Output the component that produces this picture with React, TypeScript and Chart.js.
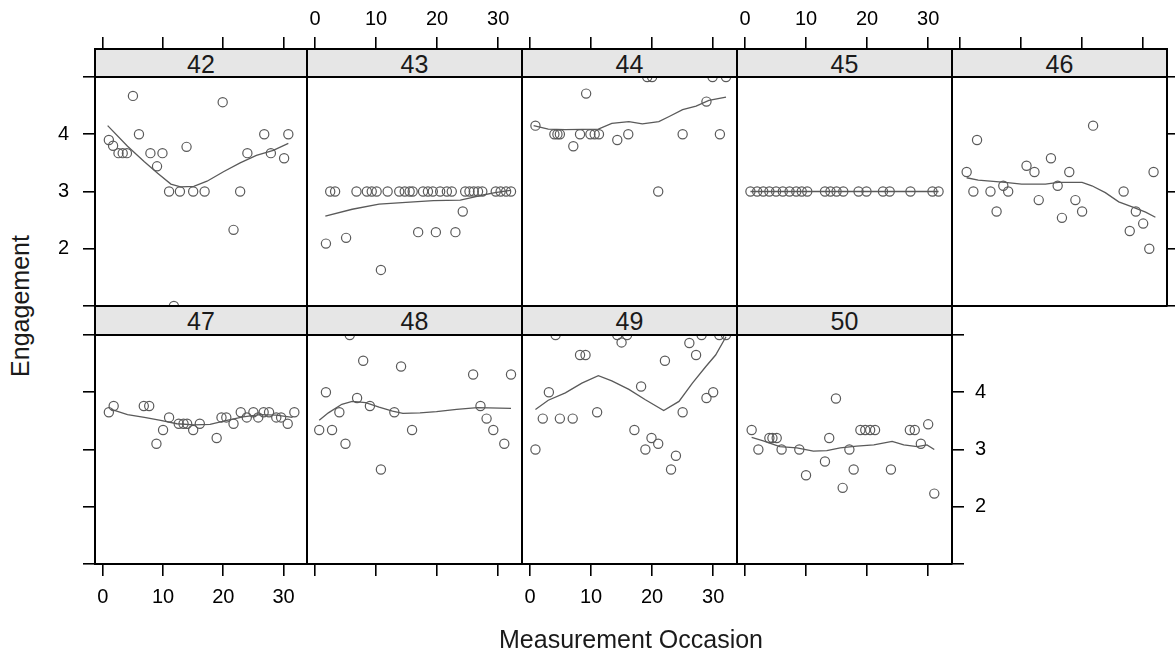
import { useEffect, useRef } from 'react';
import { Chart, registerables } from 'chart.js';

Chart.register(...registerables);

// ---------------- data ----------------
const panelIds = ['42', '43', '44', '45', '46', '47', '48', '49', '50'];
const panelRows = [0, 0, 0, 0, 0, 1, 1, 1, 1];
const panelCols = [0, 1, 2, 3, 4, 0, 1, 2, 3];

const xTickValues = [0, 10, 20, 30];
const xTickLabels = ['0', '10', '20', '30'];
const yTickValues = [1, 2, 3, 4, 5];
const yTickLabels = ['', '2', '3', '4', ''];

const occ42 = [1.0, 1.7, 2.6, 3.3, 4.0, 5.0, 6.0, 7.9, 9.0, 9.9, 11.0, 11.8, 12.8, 13.9, 15.0, 16.9, 19.9, 21.7, 22.8, 24.0, 26.8, 27.9, 30.1, 30.8];
const eng42 = [3.9, 3.8, 3.67, 3.67, 3.67, 4.67, 4.0, 3.67, 3.44, 3.67, 3.0, 1.0, 3.0, 3.78, 3.0, 3.0, 4.56, 2.33, 3.0, 3.67, 4.0, 3.67, 3.58, 4.0];
const fitX42 = [0.8, 4.1, 6.9, 9.1, 11.3, 12.9, 15.1, 17.3, 20.1, 22.8, 25.5, 28.3, 30.8];
const fitY42 = [4.15, 3.79, 3.52, 3.32, 3.13, 3.08, 3.09, 3.18, 3.35, 3.5, 3.63, 3.72, 3.84];

const occ43 = [1.8, 2.5, 3.3, 5.1, 6.8, 8.5, 9.3, 10.1, 10.8, 11.9, 13.8, 14.7, 15.5, 16.0, 16.9, 17.7, 18.5, 19.3, 19.8, 20.5, 21.6, 22.4, 23.0, 24.2, 24.6, 25.3, 26.0, 26.7, 27.4, 29.6, 30.4, 31.3, 32.1];
const eng43 = [2.09, 3, 3, 2.19, 3, 3, 3, 3, 1.63, 3, 3, 3, 3, 3, 2.29, 3, 3, 3, 2.29, 3, 3, 3, 2.29, 2.65, 3, 3, 3, 3, 3, 3, 3, 3, 3];
const fitX43 = [1.7, 6.1, 10.5, 14.9, 19.4, 23.8, 26.0, 27.1, 29.5, 32.0];
const fitY43 = [2.57, 2.69, 2.78, 2.81, 2.84, 2.85, 2.9, 2.93, 2.98, 3.02];

const occ44 = [0.9, 4.0, 4.5, 4.9, 7.1, 8.2, 9.2, 9.9, 10.6, 11.3, 14.3, 16.1, 19.2, 20.0, 21.0, 25.0, 28.9, 29.9, 31.1, 32.1];
const eng44 = [4.15, 4, 4, 4, 3.79, 4, 4.71, 4, 4, 4, 3.9, 4, 5, 5, 3, 4, 4.57, 5, 4, 5];
const fitX44 = [0.6, 3.0, 5.8, 11.2, 13.4, 16.2, 18.4, 21.1, 22.8, 25.0, 27.2, 29.3, 32.1];
const fitY44 = [4.15, 4.09, 4.08, 4.09, 4.19, 4.22, 4.18, 4.22, 4.31, 4.43, 4.49, 4.59, 4.65];

const occ45 = [0.9, 2.0, 3.0, 4.0, 5.1, 6.2, 7.3, 8.4, 9.3, 10.2, 13.1, 14.0, 15.0, 16.1, 18.6, 19.9, 22.6, 23.7, 27.1, 30.7, 31.7];
const eng45 = [3, 3, 3, 3, 3, 3, 3, 3, 3, 3, 3, 3, 3, 3, 3, 3, 3, 3, 3, 3, 3];
const fitX45 = [0.9, 31.7];
const fitY45 = [3, 3];

const occ46 = [1.1, 2.2, 2.8, 5.0, 6.0, 7.1, 7.9, 10.9, 12.2, 12.9, 14.9, 16.0, 16.7, 17.9, 18.9, 20.0, 21.8, 26.8, 27.8, 28.8, 30.0, 31.0, 31.7];
const eng46 = [3.34, 3.0, 3.9, 3.0, 2.65, 3.1, 3.0, 3.45, 3.34, 2.85, 3.58, 3.1, 2.54, 3.34, 2.85, 2.65, 4.15, 3.0, 2.31, 2.65, 2.44, 2.0, 3.34];
const fitX46 = [1.1, 3.0, 7.4, 10.1, 14.0, 16.1, 20.0, 21.6, 23.8, 26.0, 28.2, 30.4, 32.0];
const fitY46 = [3.24, 3.2, 3.16, 3.13, 3.13, 3.16, 3.16, 3.1, 2.98, 2.82, 2.73, 2.64, 2.55];

const occ47 = [1.0, 1.8, 6.8, 7.7, 8.9, 10.0, 11.0, 12.6, 13.4, 14.0, 15.0, 16.1, 18.9, 19.7, 20.5, 21.7, 22.9, 23.9, 25.0, 25.8, 26.7, 27.6, 28.8, 29.6, 30.7, 31.8];
const eng47 = [3.65, 3.76, 3.76, 3.76, 3.1, 3.34, 3.56, 3.45, 3.45, 3.45, 3.34, 3.45, 3.2, 3.56, 3.56, 3.45, 3.65, 3.56, 3.65, 3.56, 3.65, 3.65, 3.56, 3.56, 3.45, 3.65];
const fitX47 = [1.4, 4.1, 6.9, 9.6, 12.3, 15.1, 17.8, 20.6, 23.3, 26.1, 28.8, 31.5];
const fitY47 = [3.7, 3.61, 3.56, 3.51, 3.45, 3.43, 3.44, 3.51, 3.57, 3.61, 3.6, 3.56];

const occ48 = [0.7, 1.8, 2.8, 4.0, 5.0, 5.7, 6.9, 7.9, 9.0, 10.8, 13.0, 14.1, 15.9, 25.9, 27.1, 28.1, 29.2, 31.0, 32.1];
const eng48 = [3.34, 4.0, 3.34, 3.65, 3.1, 5.0, 3.9, 4.55, 3.76, 2.65, 3.65, 4.45, 3.34, 4.31, 3.76, 3.54, 3.34, 3.1, 4.31];
const fitX48 = [0.7, 2.2, 4.4, 6.1, 8.3, 10.5, 12.7, 14.4, 17.2, 19.9, 23.2, 26.6, 32.1];
const fitY48 = [3.51, 3.64, 3.79, 3.84, 3.82, 3.74, 3.67, 3.63, 3.64, 3.66, 3.7, 3.73, 3.72];

const occ49 = [0.9, 2.1, 3.1, 4.2, 4.9, 7.0, 8.2, 9.1, 11.0, 14.3, 15.0, 15.9, 17.1, 18.2, 18.9, 19.9, 21.0, 22.1, 23.1, 23.9, 25.0, 26.1, 27.2, 28.1, 28.9, 30.0, 31.0, 32.1];
const eng49 = [3.0, 3.54, 4.0, 5.0, 3.54, 3.54, 4.65, 4.65, 3.65, 5.0, 4.87, 5.0, 3.34, 4.1, 3.0, 3.2, 3.1, 4.55, 2.65, 2.89, 3.65, 4.86, 4.65, 5.0, 3.9, 4.0, 5.0, 5.0];
const fitX49 = [0.9, 3.0, 5.8, 8.5, 11.2, 13.4, 16.2, 18.9, 21.9, 24.4, 26.6, 28.8, 30.4, 32.1];
const fitY49 = [3.7, 3.86, 3.99, 4.16, 4.29, 4.2, 4.05, 3.87, 3.68, 3.84, 4.16, 4.45, 4.65, 4.97];

const occ50 = [1.1, 2.2, 4.0, 4.5, 5.2, 6.0, 8.9, 10.0, 13.1, 13.8, 14.9, 16.0, 17.1, 17.8, 18.9, 19.7, 20.5, 21.3, 23.9, 27.0, 27.8, 28.8, 30.0, 31.0];
const eng50 = [3.34, 3.0, 3.2, 3.2, 3.2, 3.0, 3.0, 2.55, 2.79, 3.2, 3.89, 2.33, 3.0, 2.65, 3.34, 3.34, 3.34, 3.34, 2.65, 3.34, 3.34, 3.1, 3.44, 2.23];
const fitX50 = [1.1, 3.0, 5.7, 8.5, 11.2, 13.4, 15.6, 18.3, 21.1, 24.1, 26.0, 28.2, 29.8, 31.0];
const fitY50 = [3.21, 3.15, 3.05, 3.03, 2.97, 2.98, 3.03, 3.06, 3.08, 3.14, 3.08, 3.05, 3.08, 3.0];

const panelOcc = [occ42, occ43, occ44, occ45, occ46, occ47, occ48, occ49, occ50];
const panelEng = [eng42, eng43, eng44, eng45, eng46, eng47, eng48, eng49, eng50];
const panelFitX = [fitX42, fitX43, fitX44, fitX45, fitX46, fitX47, fitX48, fitX49, fitX50];
const panelFitY = [fitY42, fitY43, fitY44, fitY45, fitY46, fitY47, fitY48, fitY49, fitY50];

// ---------------- layout / style ----------------
const FONT = "'Liberation Sans', Arial, Helvetica, sans-serif";
const X_MIN = -1.3;
const X_MAX = 33.9;
const Y_MIN = 1;
const Y_MAX = 5;
const colLefts = [95, 307, 522, 737, 952, 1167];
const rowStripTop = [49, 306];
const rowPlotTop = [77, 335];
const rowPlotBottom = [306, 564];
const M = 60;
const TICK_LEN = 12;
const PT_COLOR = '#5a5a5a';

function makeScale(
  axis: 'x' | 'y',
  position: string,
  min: number,
  max: number,
  values: number[],
  labels: string[],
  showTicks: boolean,
  showLabels: boolean,
  padding: number
): any {
  return {
    type: 'linear',
    axis,
    position,
    min,
    max,
    afterBuildTicks: (s: any) => {
      s.ticks = values.map((v) => ({ value: v }));
    },
    afterFit: (s: any) => {
      if (axis === 'x') s.height = M;
      else s.width = M;
    },
    ticks: {
      display: showLabels,
      autoSkip: false,
      maxRotation: 0,
      minRotation: 0,
      padding,
      color: '#000',
      font: { family: FONT, size: 20 },
      callback: (v: number) => {
        const i = values.indexOf(v);
        return i >= 0 ? labels[i] : '';
      },
    },
    grid: {
      display: showTicks,
      drawOnChartArea: false,
      drawTicks: showTicks,
      tickLength: TICK_LEN,
      color: '#000',
      lineWidth: 1.6,
    },
    border: { display: true, color: '#000', width: 2 },
  };
}

function Panel({ index }: { index: number }) {
  const ref = useRef<HTMLCanvasElement>(null);
  const row = panelRows[index];
  const col = panelCols[index];
  const left = colLefts[col];
  const w = colLefts[col + 1] - left;
  const stripTop = rowStripTop[row];
  const plotTop = rowPlotTop[row];
  const plotBottom = rowPlotBottom[row];
  const h = plotBottom - stripTop;

  useEffect(() => {
    if (!ref.current) return;
    const plotH = plotBottom - plotTop;
    const yMaxExt = Y_MAX + ((plotTop - stripTop) / plotH) * (Y_MAX - Y_MIN);
    const isTop = row === 0;
    const lastCol = row === 0 ? 4 : 3;

    const pts = panelOcc[index].map((x, i) => ({ x, y: panelEng[index][i] }));
    const fit = panelFitX[index].map((x, i) => ({ x, y: panelFitY[index][i] }));

    const chart = new Chart(ref.current, {
      type: 'scatter',
      data: {
        datasets: [
          {
            data: pts,
            pointStyle: 'circle',
            pointRadius: 4.6,
            pointHoverRadius: 4.6,
            borderWidth: 1.2,
            borderColor: PT_COLOR,
            backgroundColor: 'rgba(0,0,0,0)',
            showLine: false,
          } as any,
          {
            data: fit,
            showLine: true,
            pointRadius: 0,
            borderWidth: 1.3,
            borderColor: PT_COLOR,
            backgroundColor: 'rgba(0,0,0,0)',
            fill: false,
            tension: 0,
          } as any,
        ],
      },
      options: {
        responsive: false,
        animation: false,
        devicePixelRatio: 1,
        events: [],
        layout: { padding: 0, autoPadding: false } as any,
        plugins: {
          legend: { display: false },
          tooltip: { enabled: false },
          title: { display: false },
        },
        scales: {
          x: makeScale('x', 'bottom', X_MIN, X_MAX, xTickValues, xTickLabels, !isTop, !isTop && col % 2 === 0, 9),
          x2: makeScale('x', 'top', X_MIN, X_MAX, xTickValues, xTickLabels, isTop, isTop && col % 2 === 1, 6),
          y: makeScale('y', 'left', Y_MIN, yMaxExt, yTickValues, yTickLabels, col === 0, col === 0 && isTop, 14),
          y2: makeScale('y', 'right', Y_MIN, yMaxExt, yTickValues, yTickLabels, col === lastCol, col === lastCol && !isTop, 11),
        } as any,
      },
    });
    return () => chart.destroy();
  }, [index]);

  return (
    <>
      <canvas
        ref={ref}
        width={w + 2 * M}
        height={h + 2 * M}
        style={{ position: 'absolute', left: left - M, top: stripTop - M, width: w + 2 * M, height: h + 2 * M }}
      />
    </>
  );
}

function Strip({ index }: { index: number }) {
  const row = panelRows[index];
  const col = panelCols[index];
  const left = colLefts[col];
  const w = colLefts[col + 1] - left;
  const top = rowStripTop[row];
  const sh = rowPlotTop[row] - top;
  return (
    <div
      style={{
        position: 'absolute',
        left: left - 1,
        top: top - 1,
        width: w + 2,
        height: sh + 2,
        boxSizing: 'border-box',
        border: '2px solid #000',
        background: '#e6e6e6',
        color: '#1a1a1a',
        fontFamily: FONT,
        fontSize: 25,
        lineHeight: `${sh - 2}px`,
        paddingTop: 1,
        textAlign: 'center',
      }}
    >
      {panelIds[index]}
    </div>
  );
}

export default function App() {
  return (
    <div
      style={{
        position: 'fixed',
        left: 0,
        top: 0,
        width: 1175,
        height: 656,
        overflow: 'hidden',
        background: '#fff',
      }}
    >
      {panelIds.map((_, i) => (
        <Panel key={'p' + i} index={i} />
      ))}
      {panelIds.map((_, i) => (
        <Strip key={'s' + i} index={i} />
      ))}
      <div
        style={{
          position: 'absolute',
          left: 20,
          top: 306,
          transform: 'translate(-50%, -50%) rotate(-90deg)',
          fontFamily: FONT,
          fontSize: 25,
          lineHeight: '25px',
          whiteSpace: 'nowrap',
          color: '#1a1a1a',
        }}
      >
        Engagement
      </div>
      <div
        style={{
          position: 'absolute',
          left: 631,
          top: 627,
          transform: 'translateX(-50%)',
          fontFamily: FONT,
          fontSize: 25,
          lineHeight: '25px',
          whiteSpace: 'nowrap',
          color: '#1a1a1a',
        }}
      >
        Measurement Occasion
      </div>
    </div>
  );
}
